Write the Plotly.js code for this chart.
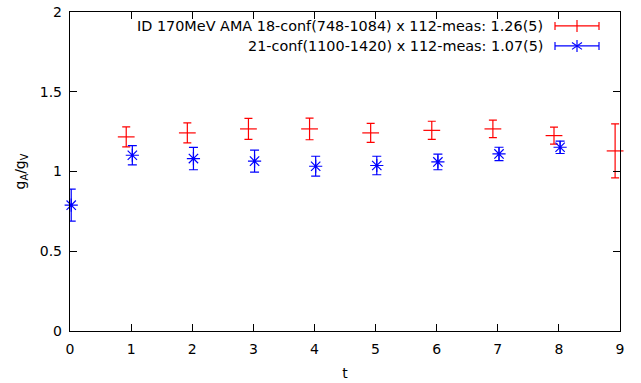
<!DOCTYPE html>
<html>
<head>
<meta charset="utf-8">
<script src="https://cdn.plot.ly/plotly-3.0.1.min.js"></script>
<style>html,body{margin:0;padding:0;background:#fff}#chart{width:641px;height:383px}</style>
</head>
<body>
<div id="chart"></div>
<script>
const redT = [1, 2, 3, 4, 5, 6, 7, 8, 9];
const redVal = [1.217, 1.242, 1.267, 1.267, 1.242, 1.258, 1.267, 1.225, 1.129];
const redErr = [0.0625, 0.0625, 0.066, 0.068, 0.06, 0.057, 0.055, 0.053, 0.169];
const blueT = [0, 1, 2, 3, 4, 5, 6, 7, 8];
const blueVal = [0.789, 1.102, 1.081, 1.065, 1.033, 1.0375, 1.06, 1.11, 1.152];
const blueErr = [0.1, 0.06, 0.07, 0.069, 0.0625, 0.058, 0.049, 0.042, 0.039];
const redLabel = 'ID 170MeV AMA 18-conf(748-1084) x 112-meas: 1.26(5)';
const blueLabel = '21-conf(1100-1420) x 112-meas: 1.07(5)';
const xTicks = [0, 1, 2, 3, 4, 5, 6, 7, 8, 9];
const yTicks = [0, 0.5, 1, 1.5, 2];
const yTickText = ['0', '0.5', '1', '1.5', '2'];

const RED = '#ff0000', BLUE = '#0000ff';
const redShift = -0.08, blueShift = 0.02;

const traces = [
  {
    x: redT.map(v => v + redShift), y: redVal, type: 'scatter', mode: 'markers',
    marker: {symbol: 'line-ew', size: 12, color: RED, line: {color: RED, width: 1.2}},
    error_y: {type: 'data', array: redErr, visible: true, color: RED, thickness: 1.2, width: 4},
    cliponaxis: false, showlegend: false
  },
  {
    x: blueT.map(v => v + blueShift), y: blueVal, type: 'scatter', mode: 'markers',
    marker: {symbol: 'asterisk-open', size: 11, color: BLUE, line: {color: BLUE, width: 1.2}},
    error_y: {type: 'data', array: blueErr, visible: true, color: BLUE, thickness: 1.2, width: 4.5},
    cliponaxis: false, showlegend: false
  }
];

// custom legend (text on left, sample on right, like gnuplot)
const W = 550, H = 320;
const px = p => (p - 70) / W;
const py = p => (332 - p) / H;
const shapes = [];
function seg(x0, y0, x1, y1, c) {
  shapes.push({type: 'line', xref: 'paper', yref: 'paper', x0: px(x0), y0: py(y0), x1: px(x1), y1: py(y1), line: {color: c, width: 1.2}});
}
function sample(yc, c, star) {
  const a = 555, b = 599, m = 577;
  seg(a, yc, b, yc, c);
  seg(a, yc - 4, a, yc + 4, c);
  seg(b, yc - 4, b, yc + 4, c);
  seg(m, yc - 6, m, yc + 6, c);
  if (star) {
    seg(m - 5, yc - 3.5, m + 5, yc + 3.5, c);
    seg(m - 5, yc + 3.5, m + 5, yc - 3.5, c);
  }
}
sample(26, RED, false);
sample(46, BLUE, true);

const font = {family: 'DejaVu Sans', size: 14, color: '#000'};
const legFont = {family: 'DejaVu Sans', size: 14.4, color: '#000'};
const annotations = [
  {text: redLabel, xref: 'paper', yref: 'paper', x: px(545), y: py(26), xanchor: 'right', yanchor: 'middle', showarrow: false, font: legFont},
  {text: blueLabel, xref: 'paper', yref: 'paper', x: px(545), y: py(46), xanchor: 'right', yanchor: 'middle', showarrow: false, font: legFont}
];

const axisCommon = {
  showgrid: false, zeroline: false, showline: true, linecolor: '#000', linewidth: 1.2,
  mirror: 'allticks', ticks: 'inside', ticklen: 7, tickwidth: 1, tickcolor: '#000',
  tickfont: font
};

const layout = {
  width: 641, height: 383,
  margin: {l: 70, r: 21, t: 12, b: 52},
  paper_bgcolor: '#fff', plot_bgcolor: '#fff',
  font: font,
  showlegend: false,
  xaxis: Object.assign({}, axisCommon, {
    range: [0, 9], tickvals: xTicks, ticktext: xTicks.map(String),
    ticklabelstandoff: 5,
    title: {text: 't', font: font, standoff: 12}
  }),
  yaxis: Object.assign({}, axisCommon, {
    range: [0, 2], tickvals: yTicks, ticktext: yTickText,
    ticklabelstandoff: 4,
    title: {text: 'g<sub>A</sub>/g<sub>V</sub>', font: font, standoff: 10}
  }),
  shapes: shapes,
  annotations: annotations
};

Plotly.newPlot('chart', traces, layout, {displayModeBar: false, staticPlot: true});
</script>
</body>
</html>
